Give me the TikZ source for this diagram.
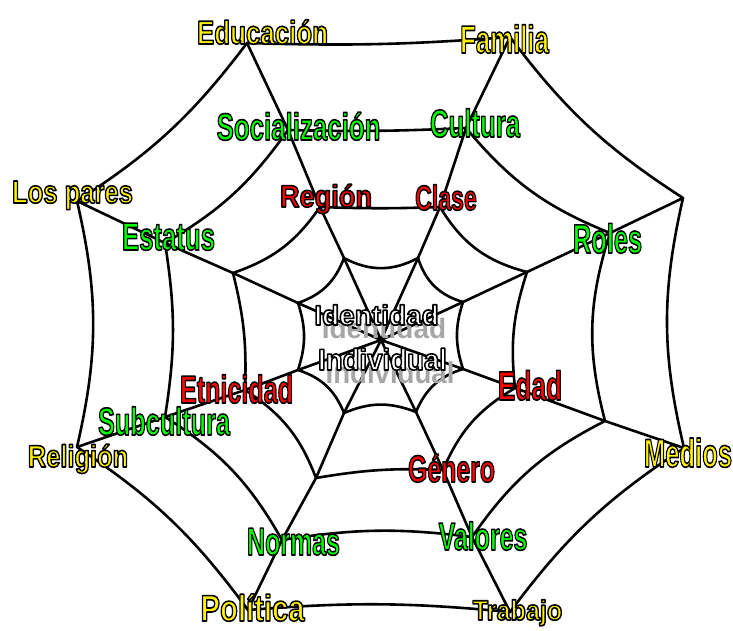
\documentclass[tikz,border=0pt]{standalone}
\usepackage{fontspec}
\setmainfont{Liberation Sans}
\newcommand\wl[3]{\fontsize{#1}{#1}\selectfont\scalebox{#2}[1]{\special{pdf:literal direct 2 Tr 1.6 w 1 j 0 0 0 RG}#3\special{pdf:literal direct 0 Tr}}}
\newcommand\shd[3]{\fontsize{#1}{#1}\selectfont\scalebox{#2}[1]{#3}}
\begin{document}
\begin{tikzpicture}[x=1pt,y=-1pt,
  web/.style={line width=2.6pt, line cap=round, line join=round, draw=black},
  lab/.style={anchor=base, inner sep=0pt, font=\bfseries},
  shadowlab/.style={anchor=base, inner sep=0pt, font=\bfseries, text=black!35}]
\fill[white] (0,0) rectangle (733,630);
\useasboundingbox (0,0) rectangle (733,630);
% vertices
\coordinate (ctr) at (381,340);
\coordinate (a1) at (247,43);  \coordinate (a2) at (510,37);
\coordinate (a3) at (683,198); \coordinate (a4) at (684,448);
\coordinate (a5) at (510,612); \coordinate (a6) at (248,610);
\coordinate (a7) at (77,447);  \coordinate (a8) at (77,201);
\coordinate (b1) at (288,130); \coordinate (b2) at (466,128);
\coordinate (b3) at (610,233); \coordinate (b4) at (605,421);
\coordinate (b5) at (472,537); \coordinate (b6) at (282,540);
\coordinate (b7) at (165,417); \coordinate (b8) at (165,243);
\coordinate (c1) at (320,207); \coordinate (c2) at (440,207);
\coordinate (c3) at (527,272); \coordinate (c4) at (515,388);
\coordinate (c5) at (443,470); \coordinate (c6) at (316,478);
\coordinate (c7) at (245,390); \coordinate (c8) at (233,273);
\coordinate (d1) at (344,258); \coordinate (d2) at (418,258);
\coordinate (d3) at (463,302); \coordinate (d4) at (463,369);
\coordinate (d5) at (416,412); \coordinate (d6) at (344,413);
\coordinate (d7) at (298,370); \coordinate (d8) at (298,303);
% spokes
\foreach \i in {1,...,8} \draw[web] (a\i) -- (b\i) -- (c\i) -- (d\i) -- (ctr);
% rings
\draw[web] (a1) to[bend right=3] (a2) to[bend right=10] (a3) to[bend right=13] (a4)
  to[bend right=10] (a5) to[bend right=5] (a6) to[bend right=10] (a7)
  to[bend right=13] (a8) to[bend right=10] (a1);
\draw[web] (b1) to[bend right=2] (b2) to[bend right=14] (b3) to[bend right=16] (b4)
  to[bend right=14] (b5) to[bend right=8] (b6) to[bend right=14] (b7)
  to[bend right=9] (b8) to[bend right=12] (b1);
\draw[web] (c1) to[bend right=2] (c2) to[bend right=22] (c3) to[bend right=12] (c4)
  to[bend right=18] (c5) to[bend right=6] (c6) to[bend right=18] (c7)
  to[bend right=8] (c8) to[bend right=18] (c1);
\draw[web] (d1) to[bend right=28] (d2) to[bend right=28] (d3) to[bend right=18] (d4)
  to[bend right=25] (d5) to[bend right=22] (d6) to[bend right=25] (d7)
  to[bend right=18] (d8) to[bend right=25] (d1);
% centre shadow
\node[shadowlab] (idsh) at (384,338) {\shd{28}{1.0}{Identidad}};
\node[shadowlab] (insh) at (390,383) {\shd{30}{0.92}{Individual}};
% labels outer
\node[lab,text=yellow] (educacion) at (262.5,44) {\wl{33}{0.785}{Educación}};
\node[lab,text=yellow] (familia) at (504.5,53) {\wl{39}{0.66}{Familia}};
\node[lab,text=yellow] (lospares) at (72.5,203) {\wl{32}{0.80}{Los pares}};
\node[lab,text=yellow] (religion) at (78,467) {\wl{31}{0.82}{Religión}};
\node[lab,text=yellow] (politica) at (252.5,621) {\wl{37}{0.79}{Política}};
\node[lab,text=yellow] (trabajo) at (517.5,620) {\wl{28}{0.90}{Trabajo}};
\node[lab,text=yellow] (medios) at (688,467) {\wl{40}{0.64}{Medios}};
% labels middle
\node[lab,text=green] (socializacion) at (298.5,140) {\wl{38}{0.68}{Socialización}};
\node[lab,text=green] (cultura) at (475,137) {\wl{39}{0.66}{Cultura}};
\node[lab,text=green] (roles) at (607.5,253) {\wl{41}{0.62}{Roles}};
\node[lab,text=green] (estatus) at (168.5,250) {\wl{39}{0.66}{Estatus}};
\node[lab,text=green] (subcultura) at (164,435) {\wl{39}{0.648}{Subcultura}};
\node[lab,text=green] (normas) at (293.5,555) {\wl{39}{0.64}{Normas}};
\node[lab,text=green] (valores) at (483,550) {\wl{39}{0.64}{Valores}};
% labels inner
\node[lab,text=red] (region) at (326,207) {\wl{31}{0.876}{Región}};
\node[lab,text=red] (clase) at (446,210) {\wl{35}{0.66}{Clase}};
\node[lab,text=red] (edad) at (530,400) {\wl{41}{0.64}{Edad}};
\node[lab,text=red] (genero) at (451.5,482) {\wl{38}{0.654}{Género}};
\node[lab,text=red] (etnicidad) at (236.5,403) {\wl{39}{0.644}{Etnicidad}};
% centre
\node[lab,text=white] (identidad) at (376.5,325) {\wl{28}{1.0}{Identidad}};
\node[lab,text=white] (individual) at (382.5,370) {\wl{30}{0.92}{Individual}};
\end{tikzpicture}
\end{document}
